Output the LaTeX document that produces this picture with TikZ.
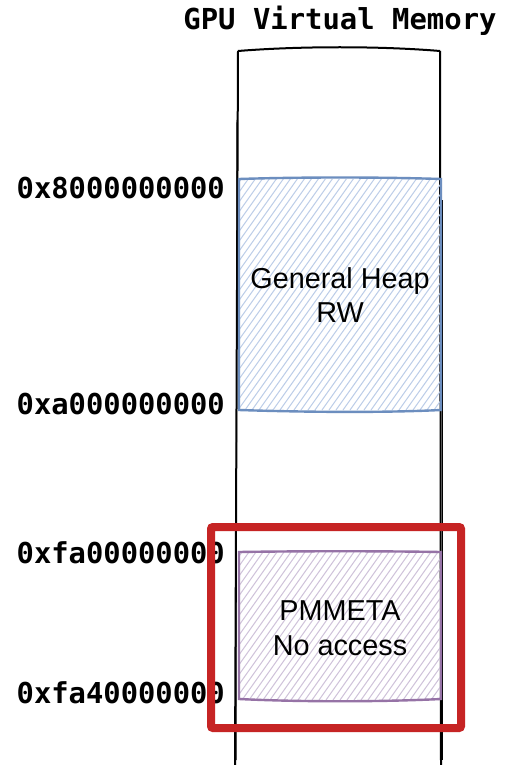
\documentclass[tikz,border=0pt]{standalone}
\usepackage{fontspec}
\setmainfont{Liberation Sans}
\newfontfamily\monofnt{DejaVu Sans Mono}
\definecolor{heapblue}{HTML}{6C8EBF}
\definecolor{heaphatch}{HTML}{BCCDE8}
\definecolor{metapurple}{HTML}{9673A6}
\definecolor{metahatch}{HTML}{CFC2DA}
\definecolor{alertred}{HTML}{C62424}
\tikzset{
  addrlabel/.style={anchor=east, inner sep=0pt, font=\monofnt\bfseries\fontsize{28.8}{34}\selectfont},
  titlelabel/.style={inner sep=0pt, font=\monofnt\bfseries\fontsize{28.9}{34}\selectfont},
  regiontext/.style={align=center, inner sep=0pt, font=\fontsize{28.8}{34.5}\selectfont},
  colline/.style={line width=2pt, black},
}
\begin{document}
\begin{tikzpicture}[x=1pt,y=-1pt]
\useasboundingbox (0,0) rectangle (504,765);
\fill[white] (0,0) rectangle (504,765);

% title
\node[titlelabel] (title) at (340,21) {GPU Virtual Memory};

% column
\draw[colline] (238,51) .. controls (300,46) and (380,46) .. (440,51);
\draw[colline] (238,51) -- (235,765);
\draw[line width=1pt] (237,120) -- (236,760);
\draw[colline] (440,51) -- (441,765);
\draw[line width=1pt] (442,200) -- (442,760);

% general heap region
\begin{scope}
  \clip (240,179) rectangle (440,410);
  \foreach \xa in {70,77,...,440} {
    \draw[heaphatch, line width=1pt] (\xa,410) -- ({\xa+165},178);
  }
\end{scope}
\draw[heapblue, line width=2.4pt] (239,179) .. controls (300,177) and (380,177) .. (441,179)
  -- (441,410) .. controls (380,413) and (300,412) .. (239,410) -- cycle;
\node[regiontext] (heap) at (340,295) {General Heap\\RW};

% pmmeta region
\begin{scope}
  \clip (240,552) rectangle (440,700);
  \foreach \xa in {130,137,...,440} {
    \draw[metahatch, line width=1pt] (\xa,700) -- ({\xa+105},552);
  }
\end{scope}
\draw[metapurple, line width=2.4pt] (239,552) .. controls (300,551) and (380,551) .. (441,552)
  -- (441,699) .. controls (380,702) and (300,702) .. (239,699) -- cycle;
\node[regiontext] (meta) at (340,628) {PMMETA\\No access};

% address labels
\node[addrlabel] (a1) at (225,188) {0x8000000000};
\node[addrlabel] (a2) at (225,404) {0xa000000000};
\node[addrlabel] (a3) at (225,553) {0xfa00000000};
\node[addrlabel] (a4) at (225,693) {0xfa40000000};

% highlight
\draw[alertred, line width=8pt, rounded corners=2pt] (211,527) rectangle (461,728);
\end{tikzpicture}
\end{document}
